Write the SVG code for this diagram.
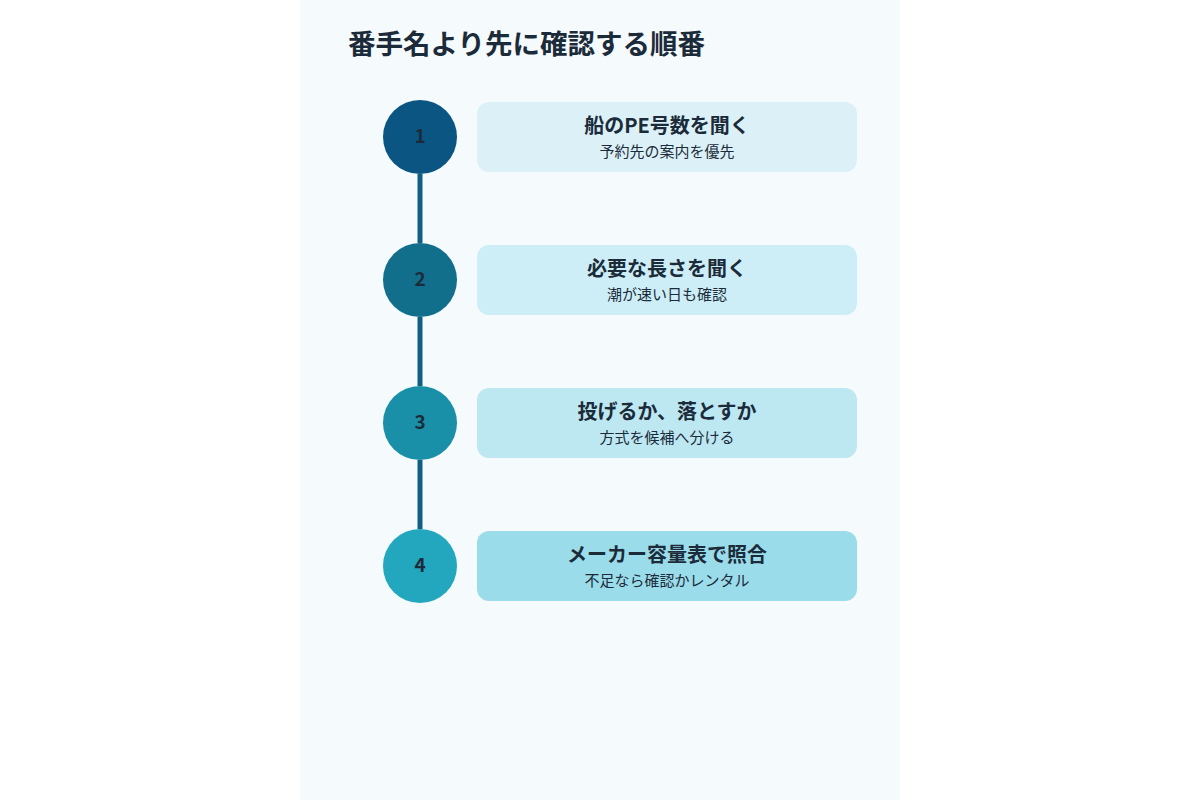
<svg xmlns="http://www.w3.org/2000/svg" width="1200" height="800" viewBox="0 0 1200 800">
<style>
.t{font-family:"Noto Sans CJK JP","Noto Sans",sans-serif;fill:#1b2b3a;text-anchor:middle}
.h{font-size:20px;font-weight:700}
.s{font-size:15px}
.n{font-size:19px;font-weight:700}
</style>
<rect width="1200" height="800" fill="#ffffff"/>
<rect x="300" y="0" width="600" height="800" fill="#f5fafd"/>
<text x="348" y="54" font-family="Noto Sans CJK JP,sans-serif" font-size="27.5" font-weight="700" fill="#1b2b3a">番手名より先に確認する順番</text>
<g id="connectors" stroke="#0f5f80" stroke-width="5">
<line x1="420" y1="174" x2="420" y2="243"/>
<line x1="420" y1="317" x2="420" y2="386"/>
<line x1="420" y1="460" x2="420" y2="529"/>
</g>
<g id="step1"><circle cx="420" cy="137" r="37" fill="#0b5583"/><text class="t n" x="420" y="143">1</text>
<rect x="477" y="102" width="380" height="70" rx="12" fill="#dbf1f7"/><text class="t h" x="667" y="133">船のPE号数を聞く</text><text class="t s" x="667" y="157">予約先の案内を優先</text></g>
<g id="step2"><circle cx="420" cy="280" r="37" fill="#116f8c"/><text class="t n" x="420" y="286">2</text>
<rect x="477" y="245" width="380" height="70" rx="12" fill="#cdeef6"/><text class="t h" x="667" y="276">必要な長さを聞く</text><text class="t s" x="667" y="300">潮が速い日も確認</text></g>
<g id="step3"><circle cx="420" cy="423" r="37" fill="#1990a8"/><text class="t n" x="420" y="429">3</text>
<rect x="477" y="388" width="380" height="70" rx="12" fill="#bde8f2"/><text class="t h" x="667" y="419">投げるか、落とすか</text><text class="t s" x="667" y="443">方式を候補へ分ける</text></g>
<g id="step4"><circle cx="420" cy="566" r="37" fill="#23a7bf"/><text class="t n" x="420" y="572">4</text>
<rect x="477" y="531" width="380" height="70" rx="12" fill="#9bdcea"/><text class="t h" x="667" y="562">メーカー容量表で照合</text><text class="t s" x="667" y="586">不足なら確認かレンタル</text></g>
</svg>
